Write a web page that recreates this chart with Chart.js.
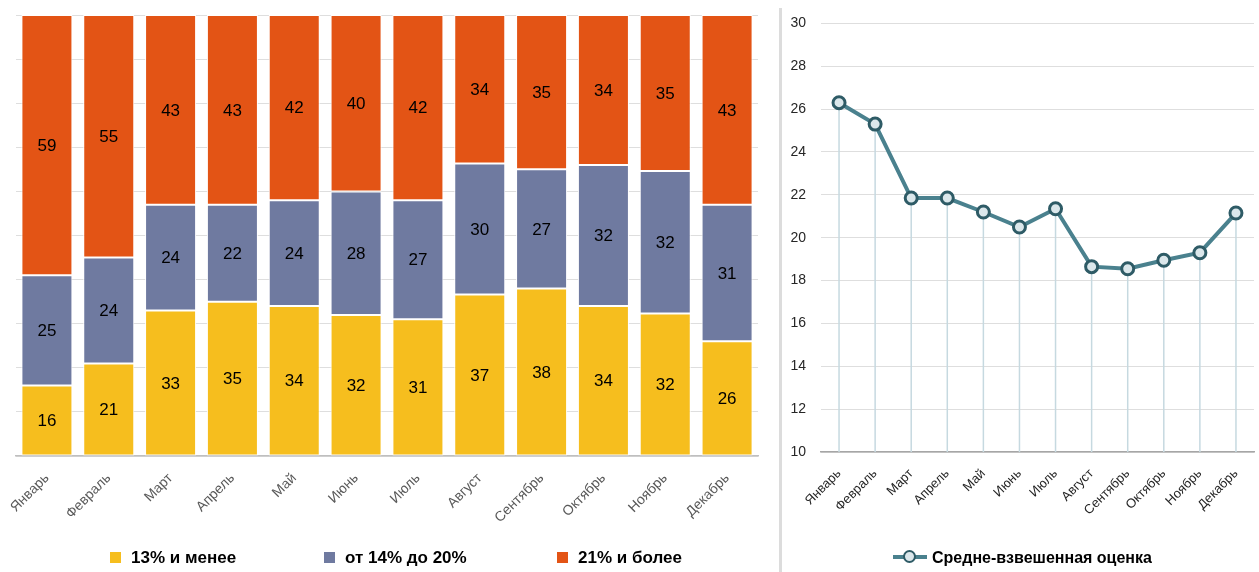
<!DOCTYPE html>
<html lang="ru">
<head>
<meta charset="UTF-8">
<title>Оценки по месяцам</title>
<script src="https://cdn.jsdelivr.net/npm/chart.js"></script>
<style>
  body { margin: 0; width: 1259px; height: 572px; position: relative; background: #fff; overflow: hidden;
         font-family: "Liberation Sans", Arial, sans-serif; }
  #barWrap { position: absolute; left: 0; top: 0; width: 776px; height: 572px; }
  #lineWrap { position: absolute; left: 783px; top: 0; width: 476px; height: 572px; }
  #sep { position: absolute; left: 779px; top: 8px; width: 3px; height: 564px; background: #dcdcdc; }
  .legend { position: absolute; top: 548px; font-weight: bold; font-size: 17px; color: #000; white-space: nowrap; }
  .legend span.box { display: inline-block; width: 11px; height: 11px; margin-right: 10px; vertical-align: 0px; }
  .legend .item { position: absolute; top: 0; }
  #lineLegend { font-size: 16px; top: 549px; }
  .mk { position: relative; display: inline-block; width: 34px; height: 14px; vertical-align: -1px; margin-right: 5px; }
  .mk .ln { position: absolute; left: 0; top: 5px; width: 34px; height: 4px; background: #4a818e; }
  .mk .pt { position: absolute; left: 10px; top: 0; width: 9px; height: 9px; border: 2.5px solid #2e5b66; border-radius: 50%; background: #dbe7eb; }
</style>
</head>
<body>
<div id="barWrap"><canvas id="barChart" width="776" height="572"></canvas></div>
<div id="sep"></div>
<div id="lineWrap"><canvas id="lineChart" width="476" height="572"></canvas></div>

<div class="legend" id="barLegend"></div>
<div class="legend" id="lineLegend" style="left:893px"></div>

<script>
  const months = ['Январь', 'Февраль', 'Март', 'Апрель', 'Май', 'Июнь', 'Июль', 'Август', 'Сентябрь', 'Октябрь', 'Ноябрь', 'Декабрь'];

  // доли по группам, %
  const low = [16, 21, 33, 35, 34, 32, 31, 37, 38, 34, 32, 26];    // 13% и менее
  const mid = [25, 24, 24, 22, 24, 28, 27, 30, 27, 32, 32, 31];    // от 14% до 20%
  const high = [59, 55, 43, 43, 42, 40, 42, 34, 35, 34, 35, 43];   // 21% и более
  const groupNames = ['13% и менее', 'от 14% до 20%', '21% и более'];
  const groupColors = ['#f6be1e', '#6f7aa0', '#e35415'];

  // средне-взвешенная оценка
  const avgScore = [26.3, 25.3, 21.85, 21.85, 21.2, 20.5, 21.35, 18.65, 18.55, 18.95, 19.3, 21.15];
  const lineName = 'Средне-взвешенная оценка';

  // 100% stacked: доля каждого сегмента в сумме месяца
  const totals = months.map((m, i) => low[i] + mid[i] + high[i]);
  const share = arr => arr.map((v, i) => v / totals[i] * 100);

  const rawByDataset = [low, mid, high];

  const barLabels = {
    id: 'barLabels',
    afterDatasetsDraw(chart) {
      const ctx = chart.ctx;
      ctx.save();
      ctx.font = '17px "Liberation Sans", Arial, sans-serif';
      ctx.fillStyle = '#000';
      ctx.textAlign = 'center';
      ctx.textBaseline = 'middle';
      chart.data.datasets.forEach((ds, di) => {
        chart.getDatasetMeta(di).data.forEach((bar, i) => {
          ctx.fillText(rawByDataset[di][i], bar.x, (bar.y + bar.base) / 2 + 1);
        });
      });
      ctx.restore();
    }
  };

  new Chart(document.getElementById('barChart'), {
    type: 'bar',
    data: {
      labels: months,
      datasets: [
        { label: groupNames[0], data: share(low), backgroundColor: groupColors[0] },
        { label: groupNames[1], data: share(mid), backgroundColor: groupColors[1] },
        { label: groupNames[2], data: share(high), backgroundColor: groupColors[2] }
      ]
    },
    options: {
      responsive: false,
      animation: false,
      layout: { autoPadding: false, padding: { left: 16, right: 18, top: 15, bottom: 26 } },
      datasets: { bar: { barPercentage: 0.825, categoryPercentage: 1, borderColor: '#ffffff', borderWidth: 1, borderSkipped: false } },
      plugins: { legend: { display: false }, tooltip: { enabled: false } },
      scales: {
        x: {
          stacked: true,
          grid: { display: false },
          border: { color: '#bfbfbf', width: 1.5 },
          ticks: { color: '#595959', font: { size: 14, family: '"Liberation Sans", Arial' }, maxRotation: 45, minRotation: 45, padding: 6 },
          afterFit: s => { s.height = 90; }
        },
        y: {
          stacked: true,
          min: 0, max: 100,
          ticks: { display: false, stepSize: 10 },
          grid: { color: '#dedede', drawTicks: false },
          border: { display: false },
          afterFit: s => { s.width = 0; }
        }
      }
    },
    plugins: [barLabels]
  });

  const dropLines = {
    id: 'dropLines',
    beforeDatasetsDraw(chart) {
      const ctx = chart.ctx;
      const bottom = chart.scales.y.getPixelForValue(chart.scales.y.min);
      ctx.save();
      ctx.strokeStyle = '#c6d9e0';
      ctx.lineWidth = 1.5;
      chart.getDatasetMeta(0).data.forEach(pt => {
        ctx.beginPath();
        ctx.moveTo(pt.x, pt.y);
        ctx.lineTo(pt.x, bottom);
        ctx.stroke();
      });
      ctx.restore();
    }
  };

  new Chart(document.getElementById('lineChart'), {
    type: 'line',
    data: {
      labels: months,
      datasets: [{
        label: lineName,
        data: avgScore,
        borderColor: '#4a818e',
        borderWidth: 4,
        pointRadius: 6,
        pointBorderWidth: 3,
        pointBackgroundColor: '#dbe7eb',
        pointBorderColor: '#2e5b66',
        tension: 0
      }]
    },
    options: {
      responsive: false,
      animation: false,
      layout: { autoPadding: false, padding: { left: 0, right: 5, top: 20, bottom: 30 } },
      plugins: { legend: { display: false }, tooltip: { enabled: false } },
      scales: {
        x: {
          offset: true,
          grid: { display: false, offset: true },
          border: { color: '#a6a6a6', width: 1.5 },
          ticks: { color: '#262626', font: { size: 13, family: '"Liberation Sans", Arial' }, maxRotation: 45, minRotation: 45, padding: 6 },
          afterFit: s => { s.height = 90; }
        },
        y: {
          min: 10, max: 30,
          ticks: { stepSize: 2, color: '#262626', font: { size: 14, family: '"Liberation Sans", Arial' }, padding: 15 },
          grid: { color: '#dedede', drawTicks: false },
          border: { display: false },
          afterFit: s => { s.width = 38; }
        }
      }
    },
    plugins: [dropLines]
  });

  // легенды
  const legendPos = [110, 324, 557];
  document.getElementById('barLegend').innerHTML = groupNames.map((n, i) =>
    '<div class="item" style="left:' + legendPos[i] + 'px"><span class="box" style="background:' + groupColors[i] + '"></span>' + n + '</div>'
  ).join('');
  document.getElementById('lineLegend').innerHTML =
    '<span class="mk"><span class="ln"></span><span class="pt"></span></span>' + lineName;
</script>
</body>
</html>
